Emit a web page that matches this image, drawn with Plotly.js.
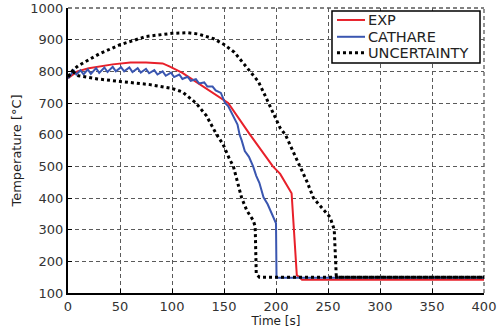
<!DOCTYPE html>
<html><head><meta charset="utf-8">
<script src="https://cdn.plot.ly/plotly-3.0.1.min.js"></script>
<style>html,body{margin:0;padding:0;background:#fff}</style>
</head><body><div id="chart" style="width:502px;height:331px"></div>
<script>
// EXP (experiment)
const expTime = [0, 3, 9, 20, 43, 60, 75, 91, 98, 110, 120, 134, 145, 154, 175, 197, 204, 215, 220, 225, 400];
const expTemp = [778, 785, 800, 810, 822, 828, 828, 825, 815, 795, 774, 743, 720, 700, 600, 500, 476, 415, 157, 142, 142];

// CATHARE
const cathTime = [0, 3, 5, 8, 12, 15, 19, 22, 27, 30, 35, 38, 43, 46, 51, 54, 59, 62, 67, 70, 75, 78, 83, 86, 91, 94, 99, 102, 107, 110, 115, 118, 123, 126, 131, 134, 139, 142, 147, 151, 154, 157, 160, 163, 165, 167, 170, 174, 178, 181, 184, 188, 192, 196, 200, 200.5, 220, 400];
const cathTemp = [778, 790, 805, 790, 803, 790, 806, 792, 810, 795, 812, 798, 814, 800, 813, 800, 812, 798, 810, 796, 808, 794, 804, 790, 800, 786, 796, 782, 790, 776, 783, 770, 775, 762, 765, 752, 752, 740, 732, 700, 690, 672, 650, 632, 600, 582, 548, 530, 500, 470, 448, 402, 380, 350, 320, 148, 148, 148];

// Uncertainty upper bound
const upTime = [0, 5, 10, 21, 30, 50, 75, 100, 115, 125, 140, 150, 160, 170, 175, 183, 190, 197, 204, 209, 216, 223, 230, 236, 245, 252, 255, 256, 258, 400];
const upTemp = [782, 805, 818, 837, 855, 884, 910, 920, 922, 918, 903, 885, 860, 820, 800, 768, 720, 670, 621, 600, 550, 500, 450, 400, 365, 339, 310, 300, 150, 150];

// Uncertainty lower bound
const loTime = [0, 5, 10, 28, 50, 79, 100, 110, 123, 133, 143, 149, 155, 159, 163, 167, 172, 178, 180, 181, 184, 400];
const loTemp = [785, 798, 786, 776, 768, 758, 746, 735, 700, 660, 600, 570, 525, 500, 450, 400, 360, 330, 310, 160, 150, 150];

const xTicks = [0, 50, 100, 150, 200, 250, 300, 350, 400];
const yTicks = [100, 200, 300, 400, 500, 600, 700, 800, 900, 1000];

// legend entries
const legendNames = ['EXP', 'CATHARE', 'UNCERTAINTY'];
const legendColors = ['#e8202a', '#3a56b0', '#000000'];
const legendDash = ['solid', 'solid', 'dot'];
const legendWidth = [2, 2, 3];

const traces = [
  {x: expTime, y: expTemp, name: legendNames[0], mode: 'lines', line: {color: legendColors[0], width: 2}},
  {x: cathTime, y: cathTemp, name: legendNames[1], mode: 'lines', line: {color: legendColors[1], width: 2}},
  {x: upTime, y: upTemp, name: legendNames[2], mode: 'lines', line: {color: legendColors[2], width: 3, dash: 'dot'}},
  {x: loTime, y: loTemp, name: legendNames[2], mode: 'lines', line: {color: legendColors[2], width: 3, dash: 'dot'}}
];

const FONT = 'DejaVu Sans, Verdana, sans-serif';
const GRID = 'rgb(90,90,90)';

const axisCommon = {
  tickmode: 'array',
  showline: true, linecolor: '#000', linewidth: 2,
  showgrid: true, gridcolor: GRID, gridwidth: 1.3, griddash: '4px,3px',
  zeroline: false, ticks: 'inside', ticklen: 4, tickcolor: '#000', tickwidth: 1,
  tickfont: {family: FONT, size: 13, color: '#333'}
};

// manual legend (box + sample lines + labels), in paper coordinates
const lgX0 = 0.6346, lgX1 = 0.9904, lgY0 = 0.807, lgY1 = 0.9895;
const rowY = [0.958, 0.899, 0.843];
const shapes = [
  {type: 'line', xref: 'paper', yref: 'paper', x0: 0, x1: 1, y0: 1, y1: 1, layer: 'below', line: {color: GRID, width: 1.3, dash: '4px,3px'}},
  {type: 'line', xref: 'paper', yref: 'paper', x0: 1, x1: 1, y0: 0, y1: 1, layer: 'below', line: {color: GRID, width: 1.3, dash: '4px,3px'}},
  {type: 'rect', xref: 'paper', yref: 'paper', x0: lgX0, x1: lgX1, y0: lgY0, y1: lgY1, fillcolor: '#fff', line: {color: '#000', width: 1.5}}
];
const annotations = [];
legendNames.forEach((n, i) => {
  shapes.push({type: 'line', xref: 'paper', yref: 'paper', x0: 0.6466, x1: 0.714, y0: rowY[i], y1: rowY[i],
    line: {color: legendColors[i], width: legendWidth[i], dash: legendDash[i]}});
  annotations.push({xref: 'paper', yref: 'paper', x: 0.7175, y: rowY[i], xanchor: 'left', yanchor: 'middle',
    text: n, showarrow: false, font: {family: FONT, size: 14.5, color: '#222'}});
});

const layout = {
  width: 502, height: 331,
  margin: {l: 68, r: 18, t: 8, b: 38},
  paper_bgcolor: '#fff', plot_bgcolor: '#fff',
  showlegend: false,
  xaxis: Object.assign({}, axisCommon, {range: [0, 400], tickvals: xTicks,
    title: {text: 'Time [s]', standoff: 3, font: {family: FONT, size: 12, color: '#222'}}}),
  yaxis: Object.assign({}, axisCommon, {range: [100, 1000], tickvals: yTicks,
    title: {text: 'Temperature [°C]', standoff: 6, font: {family: FONT, size: 13, color: '#222'}}}),
  shapes: shapes,
  annotations: annotations
};

Plotly.newPlot('chart', traces, layout, {displayModeBar: false});
</script>
</body></html>
